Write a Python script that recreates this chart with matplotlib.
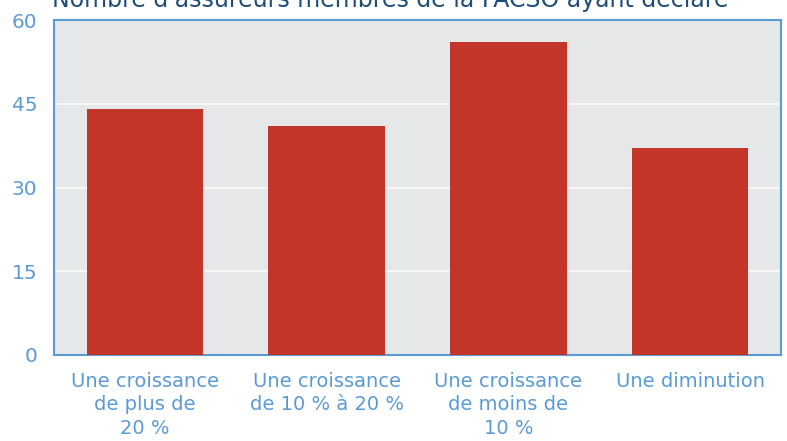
import matplotlib.pyplot as plt

categories = [
    "Une croissance\nde plus de\n20 %",
    "Une croissance\nde 10 % à 20 %",
    "Une croissance\nde moins de\n10 %",
    "Une diminution",
]
values = [44, 41, 56, 37]
yticks = [0, 15, 30, 45, 60]
title = "Nombre d'assureurs membres de la FACSO ayant déclaré"

BLUE = "#5b9bd5"
RED = "#c23528"

fig = plt.figure(figsize=(7.87, 4.41), dpi=100)
ax = fig.add_axes([54 / 787, 1 - 355 / 441, 727 / 787, 335 / 441])

ax.set_facecolor("#e6e7e9")
x = range(len(categories))
ax.bar(x, values, width=0.64, color=RED, zorder=3)

ax.set_xlim(-0.5, len(categories) - 0.5)
ax.set_ylim(0, 60)
ax.set_yticks(yticks)
ax.set_xticks(list(x))
ax.set_xticklabels(categories, linespacing=1.3)
ax.yaxis.grid(True, color="#f7f7f7", linewidth=1.6, zorder=1)
ax.set_axisbelow(True)

ax.tick_params(axis="both", length=0, colors=BLUE, labelsize=14)
ax.tick_params(axis="y", pad=12, labelsize=14.5)
ax.tick_params(axis="x", pad=12)

for s in ax.spines.values():
    s.set_color(BLUE)
    s.set_linewidth(1.5)

fig.text(52 / 787, 1 - 7 / 441, title, color="#1f4e79", fontsize=17,
         ha="left", va="baseline")

fig.savefig("out.png", dpi=100)
